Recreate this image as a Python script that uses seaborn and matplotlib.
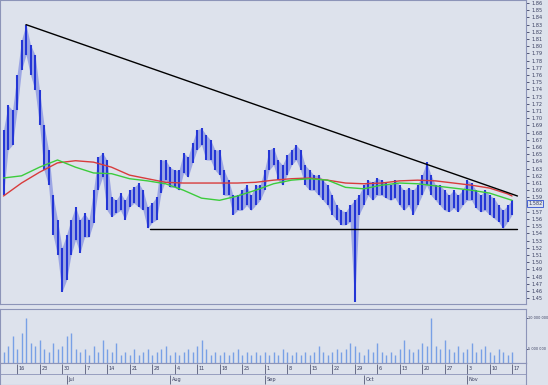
import numpy as np
import pandas as pd
import matplotlib
matplotlib.use('Agg')
import matplotlib.pyplot as plt
import seaborn as sns

# trading days shown on the chart
dates = pd.bdate_range('2008-06-11', '2008-11-17')

# daily high / low
highs = [1.684, 1.718, 1.711, 1.760, 1.809, 1.830, 1.802, 1.788, 1.739, 1.691,
         1.656, 1.593, 1.559, 1.520, 1.538, 1.559, 1.577, 1.559, 1.568, 1.559,
         1.600, 1.646, 1.652, 1.642, 1.591, 1.586, 1.596, 1.586, 1.600, 1.604,
         1.610, 1.600, 1.577, 1.582, 1.591, 1.642, 1.642, 1.632, 1.628, 1.628,
         1.652, 1.646, 1.666, 1.684, 1.686, 1.677, 1.670, 1.656, 1.656, 1.628,
         1.614, 1.593, 1.593, 1.600, 1.607, 1.593, 1.607, 1.607, 1.628, 1.656,
         1.659, 1.642, 1.635, 1.649, 1.656, 1.663, 1.656, 1.635, 1.628, 1.621,
         1.621, 1.614, 1.607, 1.593, 1.579, 1.572, 1.570, 1.579, 1.586, 1.593,
         1.607, 1.614, 1.611, 1.617, 1.614, 1.610, 1.607, 1.614, 1.607, 1.600,
         1.603, 1.600, 1.607, 1.621, 1.639, 1.621, 1.607, 1.607, 1.600, 1.593,
         1.600, 1.593, 1.600, 1.614, 1.610, 1.600, 1.593, 1.600, 1.593, 1.589,
         1.579, 1.572, 1.579, 1.586]
lows = [1.593, 1.656, 1.663, 1.711, 1.767, 1.788, 1.760, 1.739, 1.691, 1.628,
        1.607, 1.538, 1.510, 1.459, 1.475, 1.510, 1.531, 1.513, 1.535, 1.535,
        1.555, 1.600, 1.618, 1.572, 1.563, 1.568, 1.572, 1.559, 1.577, 1.582,
        1.577, 1.572, 1.547, 1.555, 1.559, 1.596, 1.614, 1.604, 1.604, 1.600,
        1.624, 1.618, 1.638, 1.656, 1.663, 1.642, 1.642, 1.628, 1.621, 1.593,
        1.593, 1.566, 1.572, 1.572, 1.579, 1.572, 1.579, 1.586, 1.600, 1.628,
        1.635, 1.614, 1.607, 1.621, 1.635, 1.642, 1.628, 1.607, 1.600, 1.600,
        1.593, 1.586, 1.579, 1.566, 1.559, 1.552, 1.552, 1.556, 1.445, 1.566,
        1.579, 1.593, 1.586, 1.593, 1.593, 1.589, 1.586, 1.589, 1.579, 1.572,
        1.579, 1.566, 1.579, 1.593, 1.607, 1.593, 1.586, 1.579, 1.572, 1.570,
        1.575, 1.570, 1.579, 1.586, 1.586, 1.575, 1.570, 1.572, 1.566, 1.561,
        1.556, 1.547, 1.556, 1.566]

# daily volume, millions
volume = [4.5, 5.5, 7.0, 5.0, 7.5, 10.0, 6.0, 5.5, 6.5, 5.0,
          4.5, 6.0, 5.0, 5.5, 7.0, 7.5, 5.0, 4.5, 5.0, 4.0,
          5.5, 4.5, 6.5, 5.0, 4.5, 6.0, 4.0, 4.5, 4.0, 5.0,
          4.0, 4.5, 5.0, 4.0, 4.5, 5.0, 5.5, 4.0, 4.5, 4.0,
          4.5, 5.0, 4.5, 5.5, 6.5, 5.0, 4.0, 4.5, 4.0, 4.5,
          4.0, 4.5, 5.0, 4.0, 4.5, 4.0, 4.5, 4.0, 4.5, 4.0,
          4.5, 4.0, 5.0, 4.5, 4.0, 4.5, 4.0, 4.5, 4.0, 4.5,
          5.5, 4.5, 4.0, 4.5, 5.0, 4.5, 5.0, 6.0, 5.5, 4.5,
          4.0, 5.0, 4.5, 6.0, 4.5, 4.0, 4.5, 4.0, 5.0, 6.5,
          5.0, 4.5, 5.0, 6.0, 5.5, 10.0, 5.5, 5.0, 6.5, 5.0,
          4.5, 5.5, 4.5, 5.0, 6.0, 4.5, 5.0, 5.5, 4.5, 4.0,
          5.0, 4.5, 4.0, 4.5]

# moving averages (every 4th trading day)
ma_idx = [0, 4, 8, 12, 16, 20, 24, 28, 32, 36, 40, 44, 48, 52, 56,
          60, 64, 68, 72, 76, 80, 84, 88, 92, 96, 100, 104, 108, 112, 113]
ma_red = [1.592, 1.610, 1.625, 1.638, 1.641, 1.639, 1.632, 1.621, 1.616, 1.611,
          1.610, 1.610, 1.610, 1.610, 1.611, 1.614, 1.616, 1.617, 1.614, 1.610,
          1.609, 1.610, 1.613, 1.614, 1.613, 1.610, 1.607, 1.603, 1.595, 1.592]
ma_green = [1.617, 1.620, 1.632, 1.642, 1.632, 1.624, 1.623, 1.616, 1.613, 1.609,
            1.600, 1.589, 1.586, 1.592, 1.600, 1.609, 1.614, 1.616, 1.614, 1.604,
            1.602, 1.607, 1.610, 1.609, 1.606, 1.603, 1.600, 1.596, 1.588, 1.586]

# drawn trend lines
trend_idx = [5, 114.2]
trend_val = [1.830, 1.592]
support_idx = [32.6, 114.2]
support_val = [1.546, 1.546]

last_price = '1.582'
price_ticks = np.round(np.arange(1.45, 1.865, 0.01), 2)

bg = '#dde2ec'
frame = '#8c94b8'
txt = '#3a3f60'
blue = '#2436d6'

sns.set_style('white')
plt.rcParams['font.family'] = ['DejaVu Sans']

fig = plt.figure(figsize=(5.48, 3.85), dpi=100, facecolor=bg)
W = 526 / 548
ax = fig.add_axes([0, 1 - 304 / 385, W, 304 / 385], facecolor=bg)
axv = fig.add_axes([0, 1 - 363 / 385, W, 54 / 385], facecolor=bg)
axd = fig.add_axes([0, 0, W, 22 / 385], facecolor=bg)

x = np.arange(len(dates))
xlim = (-0.78, 116.1)

# price bars
ax.fill_between(x, lows, highs, color=blue, lw=0, alpha=0.35)
ax.vlines(x, lows, highs, color=blue, lw=1.5)
sns.lineplot(x=ma_idx, y=ma_red, color='#d83c3c', lw=1.0, ax=ax)
sns.lineplot(x=ma_idx, y=ma_green, color='#3ccc3c', lw=1.0, ax=ax)
sns.lineplot(x=trend_idx, y=trend_val, color='black', lw=1.0, ax=ax)
sns.lineplot(x=support_idx, y=support_val, color='black', lw=1.0, ax=ax)
ax.set_xlim(*xlim)
ax.set_ylim(1.442, 1.8642)
ax.yaxis.tick_right()
ax.set_yticks(price_ticks)
ax.set_yticklabels(['' if abs(v - 1.58) < 1e-6 else f'{v:.2f}' for v in price_ticks])
ax.tick_params(axis='y', direction='out', length=2.5, width=0.6, pad=1.5,
               labelsize=3.6, colors=txt)
ax.set_xticks([])
ax.text(1.004, 1.582, last_price, transform=ax.get_yaxis_transform(),
        fontsize=3.6, color=txt, va='center', ha='left',
        bbox=dict(boxstyle='square,pad=0.2', fc=bg, ec='#3050d0', lw=0.6))

# volume
axv.vlines(x, 2.74e6, np.array(volume) * 1e6, color='#78a0e6', lw=1.0)
axv.set_xlim(*xlim)
axv.set_ylim(2.74e6, 11.4e6)
axv.yaxis.tick_right()
axv.set_yticks([5e6, 10e6])
axv.set_yticklabels(['5 000 000', '10 000 000'])
axv.tick_params(axis='y', direction='out', length=1.2, width=0.6, pad=0.5,
                labelsize=2.5, colors=txt)
axv.set_xticks([])

# date strip
axd.set_xlim(*xlim)
axd.set_ylim(0, 22)
axd.set_xticks([])
axd.set_yticks([])
mondays = [i for i, d in enumerate(dates) if d.weekday() == 0]
for i in mondays:
    axd.vlines(i, 11.5, 21, color=txt, lw=0.5)
    axd.text(i + 0.4, 16, str(dates[i].day), fontsize=3.6, color=txt,
             va='center', ha='left')
month_starts = [i for i in range(1, len(dates)) if dates[i].month != dates[i - 1].month]
for i in month_starts:
    axd.vlines(i, 1.5, 10, color=txt, lw=0.5)
    axd.text(i + 0.4, 5.5, dates[i].strftime('%b'), fontsize=3.6, color=txt,
             va='center', ha='left')
axd.axhline(11, color=frame, lw=0.6)

for a in (ax, axv, axd):
    for s in a.spines.values():
        s.set_color(frame)
        s.set_linewidth(0.8)

fig.savefig('out.png', dpi=100, facecolor=bg)
